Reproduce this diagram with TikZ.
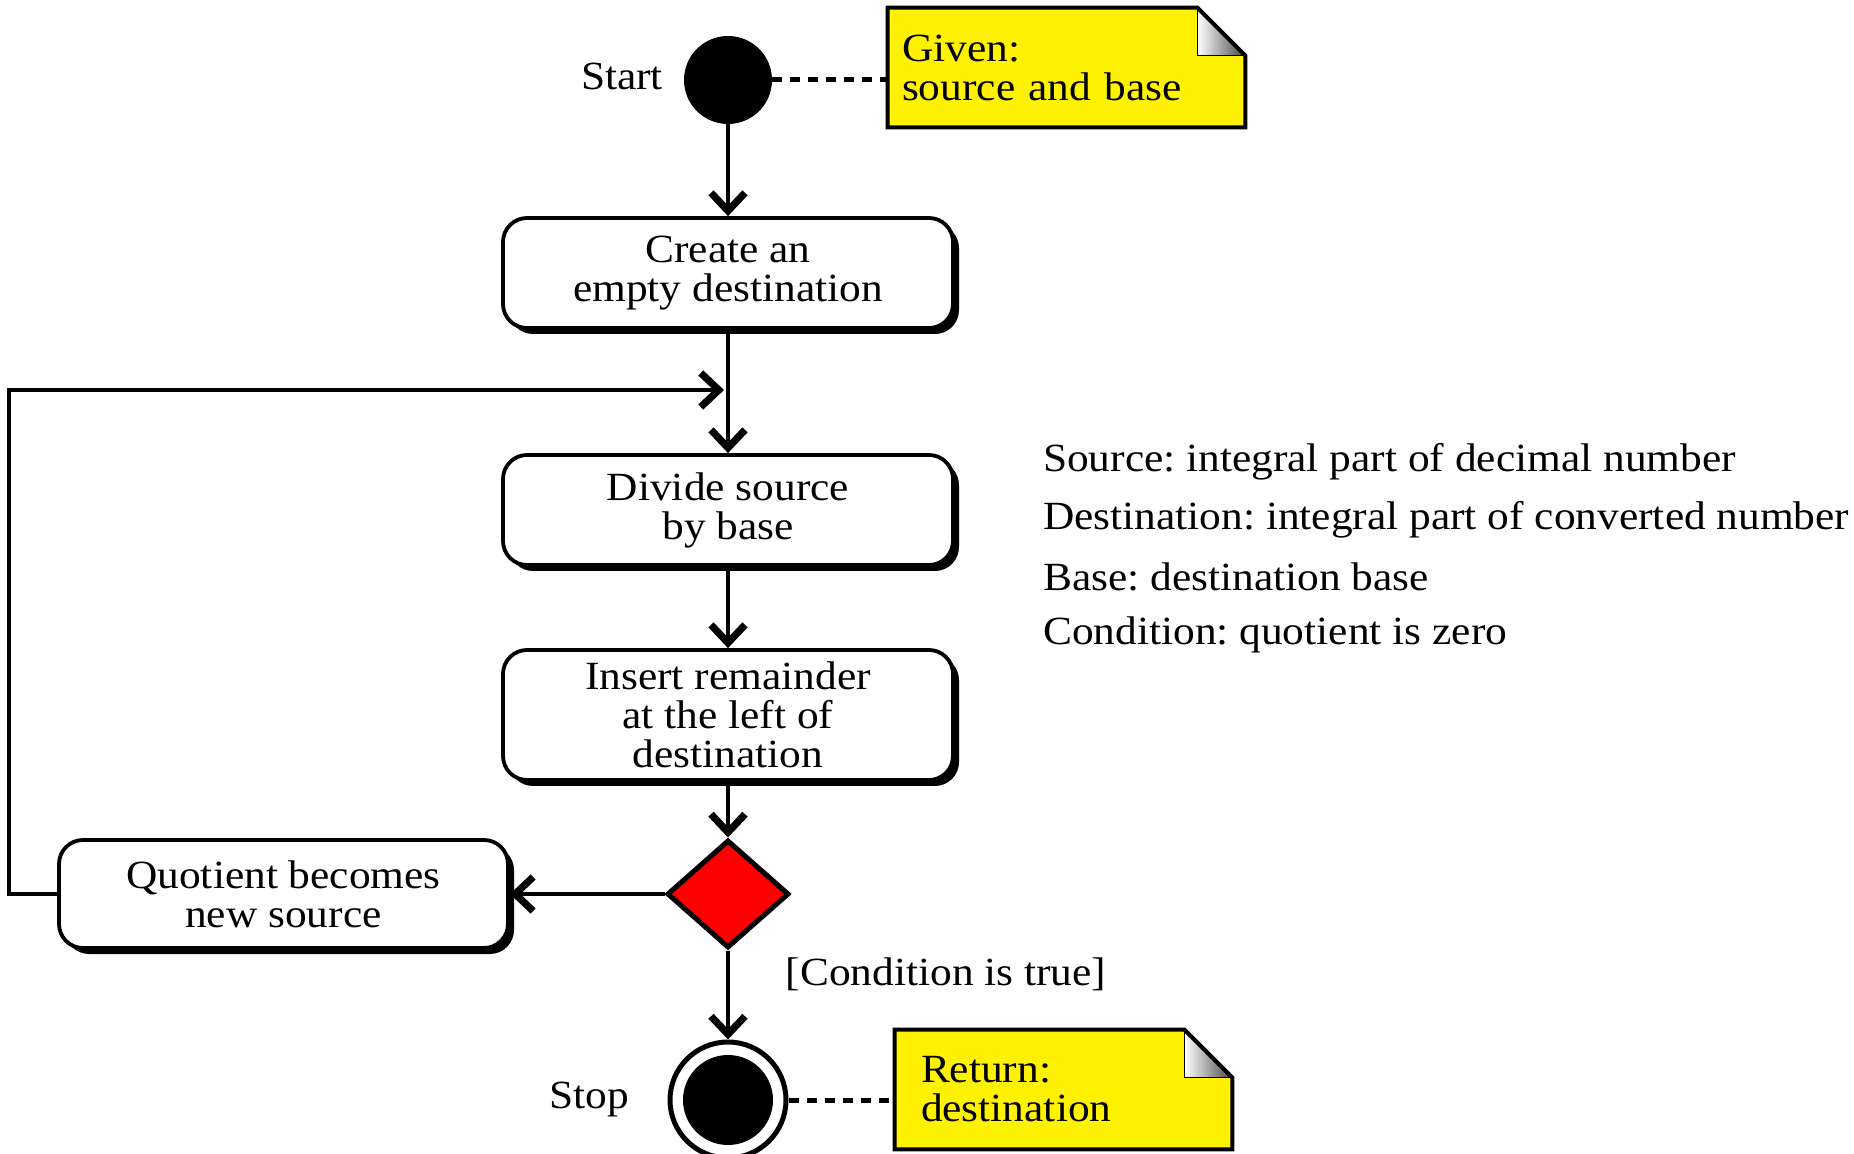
\documentclass[tikz,border=0pt]{standalone}
\usepackage{fontspec}
\setmainfont{Liberation Serif}[FakeStretch=1.085]
\usetikzlibrary{arrows.meta}
\usetikzlibrary{calc}
\usetikzlibrary{shapes.geometric}
\usetikzlibrary{shadows}
\frenchspacing

% folded corner of a note
\newcommand{\dogear}[1]{%
  \fill[white] (#1.north east) -- ($(#1.north east)+(-48,0)$) -- ($(#1.north east)+(0,48)$) -- cycle;
  \shade[left color=white, right color=gray!55!black] ($(#1.north east)+(-48,0)$) -- ($(#1.north east)+(-48,48)$) -- ($(#1.north east)+(0,48)$) -- cycle;
  \draw[line width=0.8pt] ($(#1.north east)+(-48,0)$) |- ($(#1.north east)+(0,48)$);
  \draw[line width=2pt] (#1.south west) |- ($(#1.north east)+(-48,0)$) -- ($(#1.north east)+(0,48)$) |- cycle;
}

\begin{document}
\begin{tikzpicture}[x=0.5pt,y=0.5pt,yscale=-1,xscale=1,
  every node/.style={font=\fontsize{20}{19.5}\selectfont},
  action/.style={draw, line width=1.9pt, rounded corners=12pt, fill=white, align=center, inner sep=0pt,
    drop shadow={shadow xshift=3pt, shadow yshift=-3pt, fill=black, opacity=1}},
  flow/.style={line width=1.8pt, -{Straight Barb[length=9pt,width=17pt,line width=3.6pt]}},
  link/.style={line width=2.5pt, dash pattern=on 5pt off 4pt},
  note/.style={fill=yellow, align=left, minimum height=59.5pt, inner ysep=0pt}]
\useasboundingbox (0,0) rectangle (1854,1154);

%Shape: Start
\node[circle, fill=black, minimum size=44pt, inner sep=0pt] (start) at (728,80) {};
\node (startlbl) at (622,76) {Start};
%Shape: Note given
\node[note, inner xsep=7pt, text width=164.5pt] (given) at (1066.5,67.5) {Given:\\source and base};
\dogear{given}
\draw[link] (start.east) -- (start.east -| given.west);

%Shape: Actions
\node[action, minimum width=225pt, minimum height=55pt] (create) at (728,273) {Create an\\empty destination};
\node[action, minimum width=225pt, minimum height=55pt] (divide) at (728,510) {Divide source\\by base};
\node[action, minimum width=225pt, minimum height=65pt] (insert) at (728,715) {Insert remainder\\at the left of\\destination};
\node[action, minimum width=224.5pt, minimum height=54pt] (quotient) at (283.5,894) {Quotient becomes\\new source};

%Shape: Decision
\node[diamond, draw, fill=red, line width=2.5pt, minimum width=61pt, minimum height=54pt, inner sep=0pt] (choice) at (728,894) {};
\node (condlbl) at (946,974) {[Condition is true]};

%Shape: Stop
\node[circle, draw, line width=2.5pt, minimum size=58pt, inner sep=0pt,
  path picture={\fill (path picture bounding box.center) circle (22.5pt);}] (stop) at (728,1100) {};
\node (stoplbl) at (589,1100) {Stop};
%Shape: Note return
\node[note, inner xsep=13pt, text width=142.5pt] (ret) at (1063.5,1089.5) {Return:\\destination};
\dogear{ret}
\draw[link] (stop.east) -- (stop.east -| ret.west);

%Legend
\node[anchor=west] (srcdef) at (1036,462) {Source: integral part of decimal number};
\node[anchor=west] (dstdef) at (1036,520) {Destination: integral part of converted number};
\node[anchor=west] (bsedef) at (1036,577) {Base: destination base};
\node[anchor=west] (cnddef) at (1036,635) {Condition: quotient is zero};

%Flows
\coordinate (loopin) at (724,390);
\draw[flow] (start) -- (create);
\draw[flow] (create) -- (divide);
\draw[flow] (divide) -- (insert);
\draw[flow] (insert) -- (choice);
\draw[flow] (choice) -- (quotient);
\draw[flow] (choice) -- (stop);
\draw[flow] (quotient.west) -- ++(-48,0) |- (loopin);
\end{tikzpicture}
\end{document}
